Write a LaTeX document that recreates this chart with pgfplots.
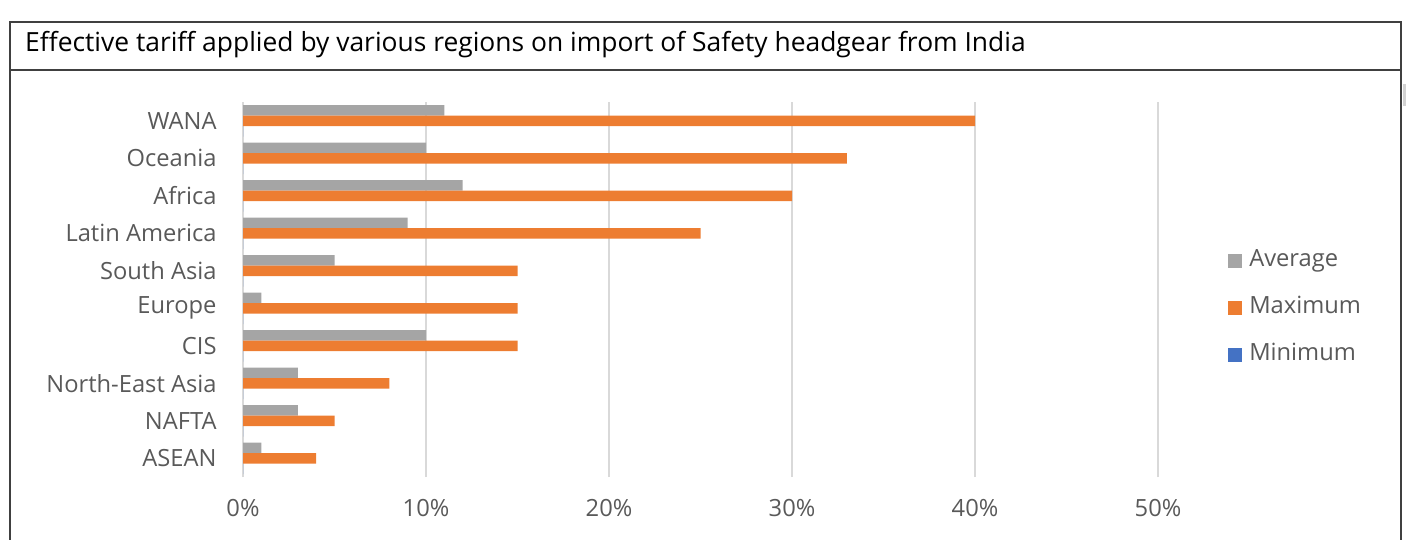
\documentclass[border=0pt]{standalone}
\usepackage{fontspec}
\setmainfont{Open Sans}
\usepackage{pgfplots}
\usepackage{pgfplotstable}
\pgfplotsset{compat=1.18}

\definecolor{avgc}{HTML}{A5A5A5}
\definecolor{maxc}{HTML}{ED7D31}
\definecolor{minc}{HTML}{4472C4}
\definecolor{gridc}{HTML}{D9D9D9}
\definecolor{txtc}{HTML}{595959}
\definecolor{framec}{HTML}{404040}

% regions, bottom to top; tariffs in percent
\pgfplotstableread{
pos avg max min
0   1   4   0
1   3   5   0
2   3   8   0
3   10  15  0
4   1   15  0
5   5   15  0
6   9   25  0
7   12  30  0
8   10  33  0
9   11  40  0
}\tariffdata

\begin{document}
\begin{tikzpicture}[x=1pt,y=1pt]
\useasboundingbox (0,0) rectangle (1407,-539);
% frame and title row
\draw[framec, line width=1.5pt] (10,-560) -- (10,-22) -- (1401,-22) -- (1401,-560);
\draw[framec, line width=1.2pt] (10,-70) -- (1401,-70);
\fill[gray!35] (1403,-84) rectangle (1406,-106);
\node[anchor=west, inner sep=0pt, font=\fontsize{26.4}{30}\selectfont] at (25,-45)
  {Effective tariff applied by various regions on import of Safety headgear from India};

\begin{axis}[
    at={(243pt,-477pt)}, anchor=south west,
    scale only axis,
    width=915pt, height=375pt,
    xbar, bar width=10.5pt,
    xmin=0, xmax=50,
    ymin=-0.5, ymax=9.5,
    xtick={0,10,...,50},
    ytick={0,...,9},
    yticklabels={ASEAN,NAFTA,North-East Asia,CIS,Europe,South Asia,Latin America,Africa,Oceania,WANA},
    xticklabel={\pgfmathprintnumber{\tick}\%},
    /pgf/number format/assume math mode=true,
    xmajorgrids,
    grid style={gridc, line width=1.5pt},
    axis line style={draw=none},
    tick style={draw=none},
    tick label style={font=\fontsize{23.7}{28}\selectfont, text=txtc},
    yticklabel style={anchor=east, inner sep=0pt, xshift=-22pt},
    xticklabel style={anchor=north, inner sep=0pt, yshift=-22pt},
    legend style={at={(1.0733,0.4507)}, anchor=west, draw=none, fill=none,
        font=\fontsize{23.7}{28}\selectfont, text=txtc, row sep=26pt,
        nodes={inner sep=0pt, text height=16pt, text depth=5pt},
        /tikz/every odd column/.append style={column sep=7pt}},
    legend cell align=left,
    legend image code/.code={\fill[#1, draw=none] (0pt,-7pt) rectangle (14pt,7pt);},
]
\addplot[fill=avgc, draw=none, bar shift=10.5pt] table[x=avg, y=pos] {\tariffdata};
\addlegendentry{Average}
\addplot[fill=maxc, draw=none, bar shift=0pt] table[x=max, y=pos] {\tariffdata};
\addlegendentry{Maximum}
\addplot[fill=minc, draw=none, bar shift=-10.5pt] table[x=min, y=pos] {\tariffdata};
\addlegendentry{Minimum}
\end{axis}
\end{tikzpicture}
\end{document}
